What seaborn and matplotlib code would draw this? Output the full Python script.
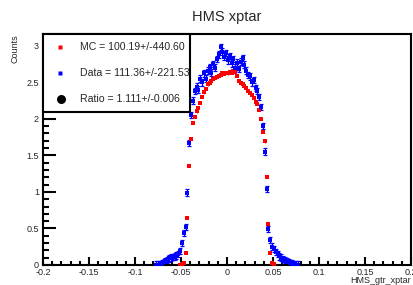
import numpy as np
import pandas as pd
import seaborn as sns
import matplotlib
matplotlib.use("Agg")
import matplotlib.pyplot as plt
from matplotlib.patches import Rectangle
from matplotlib.ticker import MultipleLocator, FuncFormatter

sns.set_theme(style="ticks")
plt.rcParams['font.family'] = ['Liberation Sans', 'DejaVu Sans']

# bin centres (bin width 0.002)
data_x = [-0.077 + 0.002 * k for k in range(78)]
data_y = [0.003, 0.005, 0.01, 0.02, 0.04, 0.05, 0.07, 0.09, 0.10, 0.11,
          0.12, 0.13, 0.15, 0.19, 0.30, 0.44, 0.52, 0.99, 1.67, 2.05,
          2.25, 2.38, 2.44, 2.40, 2.55, 2.50, 2.62, 2.55, 2.66, 2.71,
          2.63, 2.75, 2.70, 2.82, 2.88, 2.98, 2.92, 2.85, 2.90, 2.80,
          2.86, 2.76, 2.82, 2.70, 2.77, 2.68, 2.78, 2.83, 2.74, 2.66,
          2.60, 2.58, 2.50, 2.53, 2.42, 2.38, 2.30, 2.16, 1.90, 1.55,
          1.04, 0.49, 0.34, 0.25, 0.22, 0.18, 0.15, 0.12, 0.10, 0.08,
          0.07, 0.05, 0.04, 0.03, 0.02, 0.01, 0.005, 0.003]
data_err = 0.045

mc_x = [-0.051 + 0.002 * k for k in range(52)]
mc_y = [0.005, 0.01, 0.03, 0.16, 0.64, 1.36, 1.72, 1.94, 2.03, 2.10,
        2.15, 2.22, 2.30, 2.36, 2.41, 2.47, 2.49, 2.52, 2.54, 2.56,
        2.57, 2.59, 2.60, 2.62, 2.61, 2.63, 2.62, 2.64, 2.63, 2.65,
        2.64, 2.58, 2.52, 2.49, 2.47, 2.45, 2.42, 2.38, 2.35, 2.33,
        2.28, 2.23, 2.20, 2.12, 2.00, 1.82, 1.69, 1.20, 0.56, 0.16,
        0.03, 0.01]
mc_err = 0.015

legend_labels = ["MC = 100.19+/-440.60", "Data = 111.36+/-221.53", "Ratio = 1.111+/-0.006"]

mc = pd.DataFrame({"x": mc_x, "y": mc_y})
data = pd.DataFrame({"x": data_x, "y": data_y})

fig = plt.figure(figsize=(4.14, 2.85), dpi=100)
ax = fig.add_axes([43 / 414, 20 / 285, 368 / 414, 231 / 285])

ax.errorbar(mc["x"], mc["y"], yerr=mc_err, fmt="none", ecolor="red", elinewidth=0.8, capsize=0)
sns.scatterplot(data=mc, x="x", y="y", marker="s", s=10, color="red", linewidth=0, ax=ax, zorder=3)
ax.errorbar(data["x"], data["y"], yerr=data_err, fmt="none", ecolor="blue", elinewidth=0.9, capsize=1.3, capthick=0.9)
sns.scatterplot(data=data, x="x", y="y", marker="s", s=8, color="blue", linewidth=0, ax=ax, zorder=4)

ax.set_xlim(-0.2, 0.2)
ax.set_ylim(0, 3.16)

fmt = FuncFormatter(lambda v, p: "%g" % round(v, 3))
ax.xaxis.set_major_locator(MultipleLocator(0.05))
ax.xaxis.set_minor_locator(MultipleLocator(0.01))
ax.yaxis.set_major_locator(MultipleLocator(0.5))
ax.yaxis.set_minor_locator(MultipleLocator(0.1))
ax.xaxis.set_major_formatter(fmt)
ax.yaxis.set_major_formatter(fmt)
ax.tick_params(axis="both", which="both", direction="in", labelsize=6.5, width=1.5, color="black",
               top=False, right=False)
ax.tick_params(axis="x", which="major", length=6, pad=2)
ax.tick_params(axis="x", which="minor", length=3)
ax.tick_params(axis="y", which="major", length=9, pad=3)
ax.tick_params(axis="y", which="minor", length=4.5)
for sp in ax.spines.values():
    sp.set_linewidth(1.5)
    sp.set_color("black")

ax.set_xlabel("HMS_gtr_xptar", fontsize=6.5, loc="right", labelpad=-0.5)
ax.set_ylabel("Counts", fontsize=6.5, loc="top", labelpad=5)
ax.set_title("HMS xptar", fontsize=10.5, pad=9, x=0.5)

# legend box
box_w = (190 - 43) / 368
box_b = (265 - 112) / 231
ax.add_patch(Rectangle((0, box_b), box_w, 1 - box_b, transform=ax.transAxes,
                       facecolor="white", edgecolor="black", linewidth=1.5, zorder=10, clip_on=False))
rows = [(265 - 47) / 231, (265 - 73) / 231, (265 - 99) / 231]
mx = (60 - 43) / 368
tx = (80 - 43) / 368
ax.plot([mx], [rows[0]], marker="s", ms=2.4, color="red", mec="none", transform=ax.transAxes, zorder=11, clip_on=False)
ax.plot([mx], [rows[1]], marker="s", ms=2.4, color="blue", mec="none", transform=ax.transAxes, zorder=11, clip_on=False)
ax.plot([mx + 0.003], [rows[2]], marker="o", ms=6.5, color="black", mec="none", transform=ax.transAxes, zorder=11, clip_on=False)
for r, lab in zip(rows, legend_labels):
    ax.text(tx, r, lab, transform=ax.transAxes, fontsize=7.6, va="center", ha="left", zorder=12)

fig.savefig("out.png", dpi=100)
